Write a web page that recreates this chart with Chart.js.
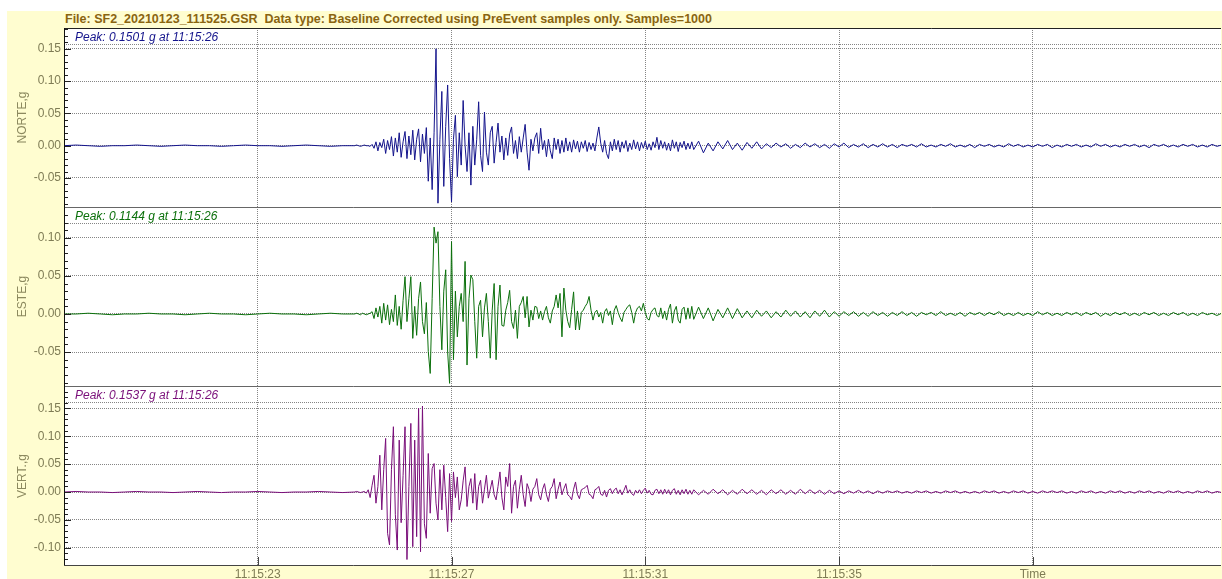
<!DOCTYPE html>
<html>
<head>
<meta charset="utf-8">
<script src="https://cdn.jsdelivr.net/npm/chart.js@4/dist/chart.umd.min.js"></script>
<style>
  html, body { margin: 0; padding: 0; background: #fff; }
  #page { position: relative; width: 1222px; height: 579px; overflow: hidden; background: #fff; }
  #frame { position: absolute; left: 7px; top: 11px; width: 1215px; height: 568px; background: #fffdd0; }
  #title { position: absolute; left: 65px; top: 12px; font: bold 12.5px "Liberation Sans", Arial, sans-serif; color: #8a6410; white-space: pre; }
  canvas { position: absolute; left: 0; }
</style>
</head>
<body>
<div id="page">
  <div id="frame"></div>
  <div id="title">File: SF2_20210123_111525.GSR  Data type: Baseline Corrected using PreEvent samples only. Samples=1000</div>
  <canvas id="chart-norte" width="1222" height="179" style="top:28px"></canvas>
  <canvas id="chart-este" width="1222" height="179" style="top:207px"></canvas>
  <canvas id="chart-vert" width="1222" height="193" style="top:386px"></canvas>
</div>
<script>
// time is in seconds after 11:15:00
const PRE_START = 19.0, PRE_STEP = 0.25;
const ACT_START = 25.0, ACT_STEP = 0.04;
const TAIL_START = 32.0, TAIL_STEP = 0.1;

const xTickValues = [23, 27, 31, 35, 39];
const xTickLabels = ['11:15:23', '11:15:27', '11:15:31', '11:15:35', 'Time'];

const channelNames = ['NORTE,g', 'ESTE,g', 'VERT.,g'];
const peakValues = ['0.1501', '0.1144', '0.1537'];
const peakTimes = ['11:15:26', '11:15:26', '11:15:26'];

// NORTE
const nortePre = [0, 0.001, 0, -0.001, 0, 0, 0.001, 0, -0.001, 0, 0.001, 0, 0, -0.001, 0, 0.001, 0, 0, -0.001, 0, 0.001, 0, -0.001, 0];
const norteActive = [
  0, 0.001, 0, -0.001, 0, 0.001, 0, 0, -0.001, 0.002,
  -0.004, 0.006, -0.008, 0.005, -0.003, 0.010, -0.012, 0.008, -0.006, 0.014,
  -0.016, 0.012, -0.010, 0.020, -0.018, 0.006, 0.022, -0.020, 0.015, -0.014,
  0.024, -0.022, 0.010, 0.026, -0.025, 0.018, -0.012, 0.028, -0.055, 0.012,
  -0.068, 0.020, 0.150, -0.089, 0.010, 0.084, -0.063, 0.030, 0.094, -0.020,
  -0.087, 0.010, 0.047, -0.048, 0.020, -0.030, 0.070, 0.000, -0.040, 0.020,
  -0.061, 0.030, -0.030, 0.010, 0.068, -0.015, -0.040, 0.052, -0.010, -0.030,
  0.020, 0.030, -0.027, 0.005, 0.035, -0.010, 0.015, -0.022, 0.012, -0.015,
  0.018, 0.029, -0.012, 0.008, -0.020, 0.014, -0.010, 0.012, 0.033, -0.010,
  -0.038, 0.010, -0.008, 0.012, 0.020, -0.012, 0.027, -0.006, 0.008, -0.017,
  0.010, -0.008, -0.020, 0.012, -0.006, 0.010, -0.012, 0.008, -0.010, 0.012,
  -0.008, 0.006, -0.010, 0.009, -0.005, 0.007, -0.010, 0.006, -0.004, 0.008,
  -0.009, 0.005, -0.006, 0.004, -0.008, 0.012, 0.029, 0.004, -0.010, 0.008,
  -0.012, -0.020, 0.006, -0.008, 0.010, -0.006, 0.008, -0.010, 0.006, -0.004,
  0.008, -0.009, 0.004, -0.006, 0.009, -0.005, 0.006, -0.008, 0.005, -0.004,
  0.007, -0.006, 0.003, -0.007, 0.006, -0.003, 0.013, -0.006, 0.008, -0.004,
  0.006, -0.007, 0.004, -0.008, 0.009, -0.004, 0.006, -0.009, 0.005, -0.003,
  0.007, -0.006, 0.004, -0.005, 0.006
];
const norteTail = [
  -0.006, 0.007, -0.011, 0.004, -0.008, 0.006, -0.005, 0.008, -0.006, 0.004,
  -0.007, 0.005, -0.004, 0.006, -0.005, 0.003, -0.003, 0.004, -0.002, 0.003,
  -0.004, 0.002, -0.003, 0.004, -0.002, 0.003, -0.003, 0.002, -0.004, 0.003,
  -0.002, 0.004, -0.003, 0.002, -0.002, 0.003, -0.003, 0.002, -0.002, 0.003,
  -0.002, 0.002, -0.003, 0.002, -0.001, 0.002, -0.002, 0.003, -0.002, 0.001,
  -0.002, 0.002, -0.001, 0.003, -0.002, 0.001, -0.002, 0.002, -0.003, 0.002,
  -0.001, 0.002, -0.002, 0.001, -0.002, 0.003, -0.001, 0.002, -0.002, 0.001,
  -0.002, 0.002, -0.001, 0.002, -0.003, 0.001, -0.002, 0.002, -0.001, 0.002,
  -0.002, 0.001, -0.002, 0.003, -0.001, 0.002, -0.002, 0.001, -0.002, 0.002,
  -0.001, 0.002, -0.002, 0.001, -0.003, 0.002, -0.001, 0.002, -0.002, 0.001,
  -0.002, 0.002, -0.001, 0.002, -0.002, 0.001, -0.002, 0.002, -0.001, 0.001
];

// ESTE
const estePre = [0, 0, 0.001, 0, -0.001, 0, 0, 0.001, 0, 0, -0.001, 0, 0.001, 0, 0, -0.001, 0, 0.001, 0, 0, -0.001, 0, 0.001, 0];
const esteActive = [
  0, 0.001, 0, -0.001, 0.001, 0, -0.001, 0, 0.001, 0.003,
  -0.006, 0.008, -0.004, 0.010, -0.012, 0.014, -0.008, 0.012, -0.014, 0.006,
  -0.010, 0.025, -0.015, 0.010, -0.020, 0.018, 0.049, -0.010, 0.020, 0.049,
  -0.032, 0.010, -0.028, 0.020, 0.042, -0.010, -0.026, 0.015, -0.049, -0.078,
  0.020, 0.114, 0.093, 0.108, 0.010, -0.047, 0.030, 0.058, -0.050, -0.091,
  0.095, -0.060, 0.030, -0.030, 0.010, 0.027, -0.010, 0.069, -0.067, 0.020,
  0.051, 0.045, -0.010, -0.058, 0.010, 0.018, -0.030, 0.008, 0.027, -0.010,
  -0.058, 0.005, 0.040, -0.060, 0.010, 0.038, -0.015, -0.016, 0.005, 0.015,
  0.031, -0.010, -0.019, 0.005, -0.032, 0.010, 0.015, 0.023, -0.005, 0.023,
  -0.017, 0.005, -0.008, 0.010, 0.009, -0.006, 0.004, -0.008, 0.003, 0.010,
  -0.005, -0.012, 0.004, 0.010, 0.025, 0.008, 0.027, -0.030, 0.034, 0.005,
  -0.010, -0.018, 0.006, 0.029, -0.021, 0.004, -0.021, 0.002, 0.005, 0.010,
  0.014, 0.023, 0.005, -0.008, 0.002, 0.005, -0.004, 0.002, -0.012, 0.003,
  0.007, -0.002, 0.004, -0.014, 0.005, 0.011, 0.002, -0.005, -0.010, 0.002,
  0.006, 0.010, 0.012, 0.002, -0.012, 0.002, 0.008, 0.010, 0.004, 0.014,
  0.002, -0.006, -0.008, 0.002, 0.006, 0.008, -0.002, -0.004, 0.008, -0.006,
  0.004, -0.008, 0.006, 0.013, -0.012, 0.004, 0.010, -0.008, -0.012, 0.006,
  0.009, -0.007, 0.008, -0.006, 0.010
];
const esteTail = [
  -0.007, 0.009, -0.006, 0.008, -0.009, 0.006, -0.005, 0.008, -0.006, 0.007,
  -0.005, 0.004, -0.005, 0.005, -0.003, 0.004, -0.005, 0.003, -0.004, 0.005,
  -0.003, 0.004, -0.004, 0.003, -0.005, 0.004, -0.003, 0.005, -0.004, 0.003,
  -0.003, 0.003, -0.002, 0.003, -0.003, 0.002, -0.003, 0.003, -0.002, 0.002,
  -0.003, 0.002, -0.002, 0.003, -0.002, 0.002, -0.003, 0.002, -0.001, 0.002,
  -0.002, 0.003, -0.002, 0.001, -0.002, 0.002, -0.003, 0.002, -0.001, 0.002,
  -0.002, 0.002, -0.001, 0.003, -0.002, 0.001, -0.002, 0.002, -0.002, 0.001,
  -0.002, 0.003, -0.001, 0.002, -0.002, 0.001, -0.002, 0.002, -0.001, 0.002,
  -0.002, 0.002, -0.001, 0.002, -0.003, 0.001, -0.002, 0.002, -0.001, 0.002,
  -0.002, 0.001, -0.002, 0.002, -0.001, 0.002, -0.002, 0.001, -0.002, 0.002,
  -0.001, 0.002, -0.002, 0.001, -0.002, 0.002, -0.001, 0.001, -0.002, 0.001
];

// VERT
const vertPre = [0, 0.001, 0, 0, -0.001, 0, 0.001, 0, 0, -0.001, 0, 0.001, 0, -0.001, 0, 0, 0.001, 0, -0.001, 0, 0, 0.001, 0, -0.001];
const vertActive = [
  0, 0.001, 0, -0.001, 0, 0.001, -0.002, 0.004, -0.010, 0.012,
  0.030, -0.020, 0.010, 0.066, -0.032, 0.040, 0.096, -0.074, -0.095, 0.040,
  0.117, -0.040, -0.104, 0.093, -0.055, 0.030, 0.117, -0.121, 0.010, 0.123,
  -0.098, 0.093, -0.080, 0.150, -0.107, 0.154, -0.057, -0.083, 0.069, -0.038,
  0.042, 0.051, -0.020, -0.050, 0.040, -0.032, 0.048, -0.010, -0.071, 0.033,
  -0.053, 0.036, -0.010, 0.027, -0.032, -0.014, 0.020, 0.045, -0.026, 0.010,
  0.024, -0.020, 0.033, -0.032, 0.010, 0.021, -0.020, 0.005, 0.030, -0.011,
  0.005, 0.021, -0.005, -0.014, 0.010, 0.036, -0.010, -0.032, 0.027, 0.010,
  0.051, -0.038, 0.010, 0.021, -0.029, 0.005, 0.030, -0.005, -0.026, 0.015,
  0.005, -0.017, 0.005, 0.010, 0.024, -0.005, -0.014, 0.005, 0.015, -0.005,
  -0.017, 0.005, 0.010, 0.024, -0.012, 0.005, 0.018, -0.005, 0.006, 0.015,
  -0.005, -0.008, -0.014, 0.005, 0.018, -0.004, -0.012, 0.004, 0.006, 0.008,
  0.012, -0.004, -0.006, -0.012, 0.004, 0.006, 0.010, -0.004, -0.006, 0.003,
  -0.009, 0.003, 0.006, -0.003, 0.004, 0.007, -0.003, 0.004, -0.005, 0.003,
  0.012, -0.002, 0.004, -0.003, -0.006, 0.003, -0.002, 0.004, -0.003, 0.003,
  0.007, -0.002, 0.003, -0.004, -0.005, 0.003, 0.005, -0.003, 0.004, -0.004,
  0.005, -0.003, 0.004, -0.005, 0.003, 0.006, -0.004, 0.003, -0.005, 0.004,
  -0.003, 0.005, -0.004, 0.003, -0.004
];
const vertTail = [
  0.004, -0.005, 0.003, -0.004, 0.005, -0.003, 0.004, -0.005, 0.003, -0.004,
  0.005, -0.003, 0.004, -0.004, 0.003, -0.005, 0.004, -0.003, 0.004, -0.004,
  0.003, -0.004, 0.005, -0.003, 0.004, -0.003, 0.003, -0.004, 0.003, -0.003,
  0.002, -0.003, 0.002, -0.002, 0.003, -0.002, 0.002, -0.003, 0.002, -0.002,
  0.002, -0.001, 0.002, -0.002, 0.001, -0.002, 0.002, -0.001, 0.002, -0.002,
  0.001, -0.002, 0.002, -0.001, 0.002, -0.002, 0.001, -0.002, 0.001, -0.002,
  0.002, -0.001, 0.002, -0.002, 0.001, -0.002, 0.002, -0.001, 0.002, -0.002,
  0.001, -0.002, 0.002, -0.001, 0.002, -0.001, 0.002, -0.002, 0.001, -0.002,
  0.002, -0.001, 0.002, -0.002, 0.001, -0.002, 0.002, -0.001, 0.002, -0.002,
  0.001, -0.002, 0.002, -0.001, 0.002, -0.002, 0.001, -0.002, 0.002, -0.001,
  0.002, -0.002, 0.001, -0.002, 0.002, -0.001, 0.002, -0.002, 0.001, -0.001
];

const X_MIN = 19.0, X_MAX = 42.885;
const AXIS_WIDTH = 64;
const FONT = '"Liberation Sans", Arial, sans-serif';
const AXIS_TEXT = '#7f7c55';
const GRID = '#858585';
const GRID_DASH = [1, 1];

const buildPoints = (pre, active, tail) => [
  ...pre.map((v, k) => ({ x: PRE_START + k * PRE_STEP, y: v })),
  ...active.map((v, k) => ({ x: ACT_START + k * ACT_STEP, y: v })),
  ...tail.map((v, k) => ({ x: TAIL_START + k * TAIL_STEP, y: v })),
];

const isMajor = (v) => {
  const c = Math.round(v * 100);
  return Math.abs(v * 100 - c) < 0.01 && c % 5 === 0;
};

// white plot area, frame, inner tick marks, peak caption
const panelDeco = {
  id: 'panelDeco',
  beforeDraw(chart) {
    const { ctx, chartArea: a } = chart;
    ctx.save();
    ctx.fillStyle = '#fff';
    ctx.fillRect(a.left, a.top, a.right - a.left, a.bottom - a.top);
    ctx.restore();
  },
  beforeDatasetsDraw(chart) {
    const { ctx, chartArea: a } = chart;
    ctx.save();
    ctx.strokeStyle = GRID;
    ctx.lineWidth = 1;
    ctx.setLineDash(GRID_DASH);
    ctx.beginPath();
    ctx.moveTo(a.left, a.top + 16.5);
    ctx.lineTo(a.right, a.top + 16.5);
    ctx.stroke();
    ctx.restore();
  },
  afterDraw(chart, args, opts) {
    const { ctx, chartArea: a, scales } = chart;
    ctx.save();
    ctx.lineWidth = 1;
    ctx.strokeStyle = '#222';
    ctx.beginPath();
    scales.y.ticks.forEach((t) => {
      const y = Math.round(scales.y.getPixelForValue(t.value)) + 0.5;
      ctx.moveTo(a.left, y);
      ctx.lineTo(a.left + (isMajor(t.value) ? 7 : 4), y);
    });
    ctx.stroke();

    // frame
    ctx.strokeStyle = opts.topColor;
    ctx.beginPath();
    ctx.moveTo(a.left, a.top + 0.5);
    ctx.lineTo(a.right, a.top + 0.5);
    ctx.stroke();
    ctx.strokeStyle = '#111';
    ctx.beginPath();
    ctx.moveTo(a.left + 0.5, a.top);
    ctx.lineTo(a.left + 0.5, a.bottom);
    ctx.stroke();

    if (opts.bottom) {
      ctx.strokeStyle = '#444';
      ctx.beginPath();
      ctx.moveTo(a.left, a.bottom - 0.5);
      ctx.lineTo(a.right, a.bottom - 0.5);
      scales.x.ticks.forEach((t) => {
        const x = Math.round(scales.x.getPixelForValue(t.value)) + 0.5;
        ctx.moveTo(x, a.bottom);
        ctx.lineTo(x, a.bottom - 9);
      });
      ctx.stroke();
    }

    ctx.font = `italic 12px ${FONT}`;
    ctx.fillStyle = opts.color;
    ctx.textBaseline = 'middle';
    ctx.fillText(opts.caption, a.left + 11, a.top + 10);
    ctx.restore();
  },
};

function makeChart(canvasId, idx, points, color, yMin, yMax, isBottom) {
  const ctx = document.getElementById(canvasId).getContext('2d');
  return new Chart(ctx, {
    type: 'line',
    data: {
      datasets: [{
        data: points,
        borderColor: color,
        borderWidth: 1,
        pointRadius: 0,
        tension: 0,
      }],
    },
    options: {
      responsive: false,
      animation: false,
      devicePixelRatio: 1,
      layout: { padding: { left: 0, right: 1, top: 0, bottom: 0 } },
      events: [],
      scales: {
        x: {
          type: 'linear',
          min: X_MIN,
          max: X_MAX,
          afterBuildTicks: (scale) => {
            scale.ticks = xTickValues.map((v) => ({ value: v }));
          },
          afterFit: (scale) => {
            scale.height = isBottom ? 13 : 0;
            scale.paddingLeft = 0;
            scale.paddingRight = 0;
          },
          grid: { color: GRID, lineWidth: 1, drawTicks: false },
          border: { display: false, dash: GRID_DASH },
          ticks: {
            display: isBottom,
            autoSkip: false,
            maxRotation: 0,
            padding: 1,
            color: AXIS_TEXT,
            font: { family: FONT, size: 12 },
            callback: (v, i) => xTickLabels[i],
          },
        },
        y: {
          min: yMin,
          max: yMax,
          afterFit: (scale) => {
            scale.width = AXIS_WIDTH;
            scale.paddingTop = 0;
            scale.paddingBottom = 0;
          },
          grid: {
            drawTicks: false,
            lineWidth: 1,
            color: (c) => (c.tick && isMajor(c.tick.value) ? GRID : 'rgba(0,0,0,0)'),
          },
          border: { display: false, dash: GRID_DASH },
          title: {
            display: true,
            text: channelNames[idx],
            color: '#8c895f',
            font: { family: FONT, size: 12 },
            padding: { top: 15, bottom: 0 },
          },
          ticks: {
            stepSize: 0.01,
            autoSkip: false,
            includeBounds: false,
            padding: 3,
            color: AXIS_TEXT,
            font: { family: FONT, size: 12 },
            callback: (v) => (isMajor(v) ? (Math.round(v * 100) / 100).toFixed(2) : ''),
          },
        },
      },
      plugins: {
        legend: { display: false },
        tooltip: { enabled: false },
        panelDeco: {
          caption: `Peak: ${peakValues[idx]} g at ${peakTimes[idx]}`,
          color: color,
          topColor: idx === 0 ? '#222' : '#666',
          bottom: isBottom,
        },
      },
    },
    plugins: [panelDeco],
  });
}

makeChart('chart-norte', 0, buildPoints(nortePre, norteActive, norteTail), '#14148c', -0.0949, 0.1822, false);
makeChart('chart-este', 1, buildPoints(estePre, esteActive, esteTail), '#0b700b', -0.0945, 0.1404, false);
makeChart('chart-vert', 2, buildPoints(vertPre, vertActive, vertTail), '#7a0f7a', -0.1326, 0.1900, true);
</script>
</body>
</html>
